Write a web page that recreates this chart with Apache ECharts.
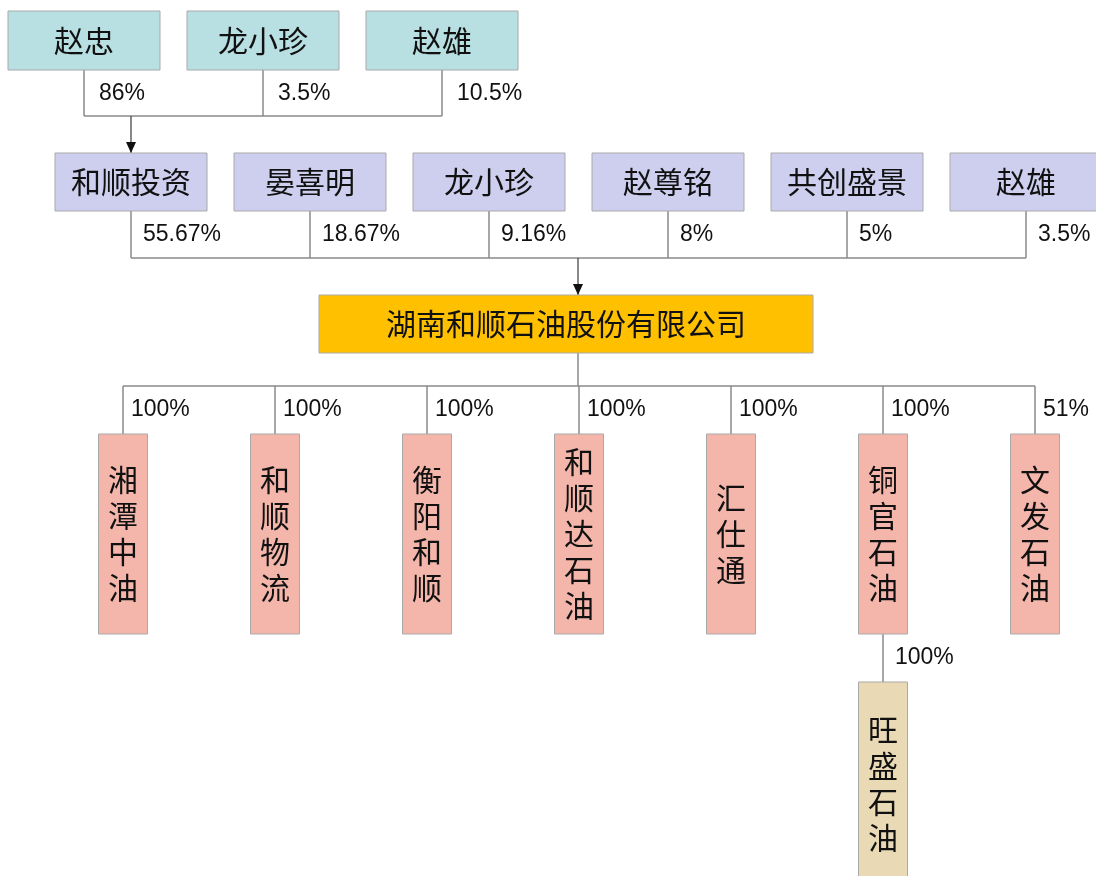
<!DOCTYPE html>
<html>
<head>
<meta charset="utf-8">
<script src="https://cdn.jsdelivr.net/npm/echarts@6/dist/echarts.min.js"></script>
<style>
html, body { margin: 0; padding: 0; background: #fff; }
#chart { width: 1096px; height: 876px; }
</style>
</head>
<body>
<div id="chart"></div>
<script>
// shareholders and holdings
const topHolders = ['赵忠', '龙小珍', '赵雄'];
const topShares = ['86%', '3.5%', '10.5%'];
const holders = ['和顺投资', '晏喜明', '龙小珍', '赵尊铭', '共创盛景', '赵雄'];
const holderShares = ['55.67%', '18.67%', '9.16%', '8%', '5%', '3.5%'];
const company = '湖南和顺石油股份有限公司';
const subsidiaries = ['湘潭中油', '和顺物流', '衡阳和顺', '和顺达石油', '汇仕通', '铜官石油', '文发石油'];
const subShares = ['100%', '100%', '100%', '100%', '100%', '100%', '51%'];
const grandChild = '旺盛石油';
const grandShare = '100%';
const grandParent = 5; // 铜官石油

const cjk = '"Noto Sans CJK SC", sans-serif';
const latin = '"Liberation Sans", Arial, sans-serif';

// layout (canvas units, y down)
const row1 = { x0: 84, step: 179, top: 11, h: 59, w: 152, bus: 116 };
const row2 = { x0: 131, step: 179, top: 153, h: 58, w: 152, bus: 258 };
const main = { cx: 566, top: 295, h: 58, w: 494, trunk: 578 };
const row3 = { x0: 123, step: 152, top: 434, h: 200, w: 49, bus: 386 };
const row4 = { top: 682, h: 204 };

const nodes = [];
const links = [];
const labels = [];

topHolders.forEach((name, i) => {
    const cx = row1.x0 + row1.step * i;
    nodes.push({ name, cx, top: row1.top, w: row1.w, h: row1.h, fill: '#B8DFE2' });
    links.push({ pts: [[cx, row1.top + row1.h], [cx, row1.bus]] });
    labels.push({ text: topShares[i], x: cx + 15, y: 94 });
});
links.push({ pts: [[row1.x0, row1.bus], [row1.x0 + row1.step * (topHolders.length - 1), row1.bus]] });
links.push({ pts: [[row2.x0, row1.bus], [row2.x0, row2.top]], arrow: true });

holders.forEach((name, i) => {
    const cx = row2.x0 + row2.step * i;
    nodes.push({ name, cx, top: row2.top, w: row2.w, h: row2.h, fill: '#CECEEF' });
    links.push({ pts: [[cx, row2.top + row2.h], [cx, row2.bus]] });
    labels.push({ text: holderShares[i], x: cx + 12, y: 235 });
});
links.push({ pts: [[row2.x0, row2.bus], [row2.x0 + row2.step * (holders.length - 1), row2.bus]] });
links.push({ pts: [[main.trunk, row2.bus], [main.trunk, main.top]], arrow: true });

nodes.push({ name: company, cx: main.cx, top: main.top, w: main.w, h: main.h, fill: '#FFC000' });
links.push({ pts: [[main.trunk, main.top + main.h], [main.trunk, row3.bus]] });

subsidiaries.forEach((name, i) => {
    const cx = row3.x0 + row3.step * i;
    nodes.push({ name, cx, top: row3.top, w: row3.w, h: row3.h, fill: '#F4B6AB', vertical: true });
    links.push({ pts: [[cx, row3.bus], [cx, row3.top]] });
    labels.push({ text: subShares[i], x: cx + 8, y: 410 });
});
links.push({ pts: [[row3.x0, row3.bus], [row3.x0 + row3.step * (subsidiaries.length - 1), row3.bus]] });

const gx = row3.x0 + row3.step * grandParent;
nodes.push({ name: grandChild, cx: gx, top: row4.top, w: row3.w, h: row4.h, fill: '#EAD9B5', vertical: true });
links.push({ pts: [[gx, row3.top + row3.h], [gx, row4.top]] });
labels.push({ text: grandShare, x: gx + 12, y: 658 });

const chart = echarts.init(document.getElementById('chart'));

chart.setOption({
    animation: false,
    backgroundColor: '#fff',
    grid: { left: 0, right: 0, top: 0, bottom: 0 },
    xAxis: { type: 'value', min: 0, max: 1096, show: false },
    yAxis: { type: 'value', min: 0, max: 876, inverse: true, show: false },
    series: [
        {
            type: 'custom',
            silent: true,
            data: links.map((l, i) => [l.pts[0][0], l.pts[0][1], i]),
            renderItem: (params, api) => {
                const l = links[api.value(2)];
                const pts = l.pts.map(p => api.coord(p));
                const children = [{
                    type: 'polyline',
                    shape: { points: pts },
                    style: { stroke: l.arrow ? '#3a3a3a' : '#8a8a8a', lineWidth: l.arrow ? 1.2 : 1.5, fill: null }
                }];
                if (l.arrow) {
                    const e = pts[pts.length - 1];
                    children.push({
                        type: 'polygon',
                        shape: { points: [[e[0] - 5, e[1] - 11], [e[0] + 5, e[1] - 11], [e[0], e[1]]] },
                        style: { fill: '#111' }
                    });
                }
                return { type: 'group', children };
            }
        },
        {
            type: 'custom',
            silent: true,
            data: nodes.map((n, i) => [n.cx, n.top, i]),
            renderItem: (params, api) => {
                const n = nodes[api.value(2)];
                const p0 = api.coord([n.cx - n.w / 2, n.top]);
                const p1 = api.coord([n.cx + n.w / 2, n.top + n.h]);
                return {
                    type: 'group',
                    children: [
                        {
                            type: 'rect',
                            shape: { x: p0[0], y: p0[1], width: p1[0] - p0[0], height: p1[1] - p0[1] },
                            style: { fill: n.fill, stroke: '#a9a9a9', lineWidth: 1 }
                        },
                        {
                            type: 'text',
                            style: {
                                text: n.vertical ? n.name.split('').join('\n') : n.name,
                                x: (p0[0] + p1[0]) / 2,
                                y: (p0[1] + p1[1]) / 2,
                                align: 'center',
                                verticalAlign: 'middle',
                                font: '30px ' + cjk,
                                lineHeight: 36,
                                fill: '#111'
                            }
                        }
                    ]
                };
            }
        },
        {
            type: 'custom',
            silent: true,
            data: labels.map((t, i) => [t.x, t.y, i]),
            renderItem: (params, api) => {
                const t = labels[api.value(2)];
                const p = api.coord([t.x, t.y]);
                return {
                    type: 'text',
                    style: {
                        text: t.text,
                        x: p[0],
                        y: p[1],
                        align: 'left',
                        verticalAlign: 'middle',
                        font: '23px ' + latin,
                        fill: '#111'
                    }
                };
            }
        }
    ]
});
</script>
</body>
</html>
